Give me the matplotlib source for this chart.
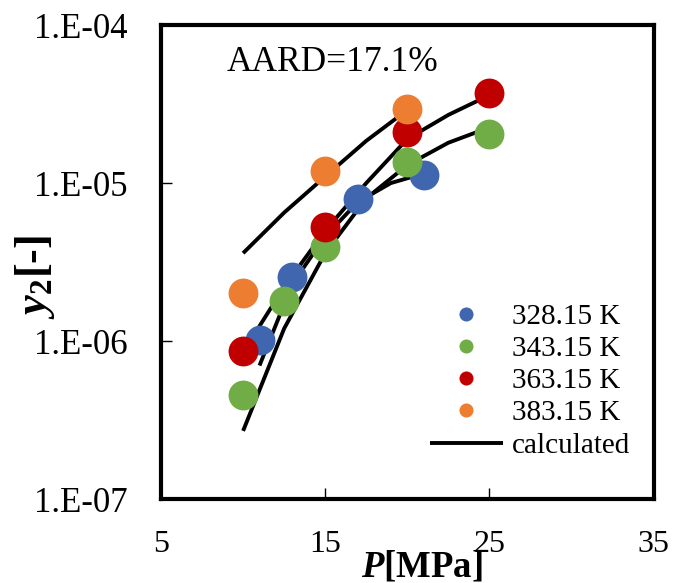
import matplotlib
matplotlib.use('Agg')
import matplotlib.pyplot as plt

plt.rcParams['font.family'] = ['Liberation Serif', 'DejaVu Serif']
plt.rcParams['mathtext.fontset'] = 'custom'
plt.rcParams['mathtext.rm'] = 'Liberation Serif'
plt.rcParams['mathtext.it'] = 'Liberation Serif:italic'
plt.rcParams['mathtext.bf'] = 'Liberation Serif:bold'
plt.rcParams['mathtext.bfit'] = 'Liberation Serif:italic:bold'

# experimental solubility data (P in MPa, y2 mole fraction)
temps = ['328.15 K', '343.15 K', '363.15 K', '383.15 K']
colors = ['#3F66AE', '#70AD47', '#C00000', '#ED7D31']

p_328 = [11, 13, 17, 21]
y_328 = [1.02e-6, 2.55e-6, 7.9e-6, 1.13e-5]
p_343 = [10, 12.5, 15, 20, 25]
y_343 = [4.55e-7, 1.8e-6, 3.95e-6, 1.35e-5, 2.03e-5]
p_363 = [10, 15, 20, 25]
y_363 = [8.6e-7, 5.3e-6, 2.1e-5, 3.7e-5]
p_383 = [10, 15, 20]
y_383 = [2.0e-6, 1.2e-5, 2.95e-5]

# calculated curves
pc_328 = [11, 13, 15, 17, 19, 21]
yc_328 = [7.0e-7, 2.3e-6, 4.6e-6, 7.6e-6, 1.0e-5, 1.15e-5]
pc_343 = [10, 12.5, 15, 17.5, 20, 22.5, 25]
yc_343 = [2.7e-7, 1.2e-6, 3.6e-6, 8.0e-6, 1.3e-5, 1.8e-5, 2.25e-5]
pc_363 = [10, 12.5, 15, 17.5, 20, 22.5, 25]
yc_363 = [8.5e-7, 2.2e-6, 5.0e-6, 1.0e-5, 1.9e-5, 2.7e-5, 3.6e-5]
pc_383 = [10, 12.5, 15, 17.5, 20]
yc_383 = [3.6e-6, 6.5e-6, 1.1e-5, 1.85e-5, 2.9e-5]

exp_p = [p_328, p_343, p_363, p_383]
exp_y = [y_328, y_343, y_363, y_383]
calc_p = [pc_328, pc_343, pc_363, pc_383]
calc_y = [yc_328, yc_343, yc_363, yc_383]

fig = plt.figure(figsize=(6.88, 5.83), dpi=100)
ax = fig.add_axes([0.234, 0.144, 0.716, 0.813])

for i in range(4):
    ax.plot(calc_p[i], calc_y[i], color='black', lw=2.8, zorder=2,
            label='calculated' if i == 0 else None, solid_capstyle='butt')
for i in range(4):
    ax.plot(exp_p[i], exp_y[i], 'o', ms=21.5, color=colors[i], mec='none',
            label=temps[i], zorder=3)

ax.set_yscale('log')
ax.set_xlim(5, 35)
ax.set_ylim(1e-7, 1e-4)
ax.set_xticks([5, 15, 25, 35])
ax.set_yticks([1e-7, 1e-6, 1e-5, 1e-4])
ax.set_yticklabels(['1.E-07', '1.E-06', '1.E-05', '1.E-04'])
ax.minorticks_off()
ax.tick_params(direction='in', length=8, width=1)
ax.tick_params(axis='x', pad=22, labelsize=23)
ax.tick_params(axis='y', pad=24, labelsize=25)
for s in ax.spines.values():
    s.set_linewidth(3)

ax.set_xlabel(r'$\mathbfit{P}$[MPa]', fontsize=26.5, fontweight='bold')
ax.xaxis.set_label_coords(0.53, -0.106)
ax.set_ylabel(r'$\mathbfit{y}_{\mathbf{2}}$[-]', fontsize=32, fontweight='bold')
ax.yaxis.set_label_coords(-0.211, 0.469)

ax.text(0.134, 0.922, 'AARD=17.1%', transform=ax.transAxes, fontsize=25.5,
        va='center', ha='left')

handles, labels = ax.get_legend_handles_labels()
order = [1, 2, 3, 4, 0]
ax.legend([handles[k] for k in order], [labels[k] for k in order],
          loc='upper left', bbox_to_anchor=(0.546, 0.413), frameon=False,
          fontsize=21, markerscale=0.47, handlelength=2.5, handletextpad=0.3,
          labelspacing=0.2, borderpad=0, borderaxespad=0)

fig.savefig('out.png', dpi=100)
